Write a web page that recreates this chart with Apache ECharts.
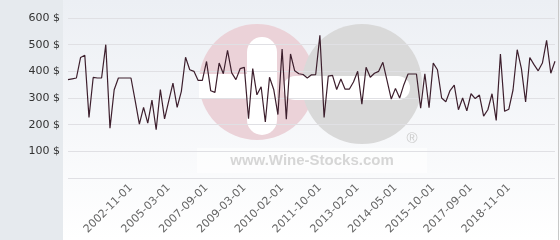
<!DOCTYPE html>
<html><head><meta charset="utf-8">
<script src="https://cdn.jsdelivr.net/npm/echarts@6/dist/echarts.min.js"></script>
<style>html,body{margin:0;padding:0;background:#fff}#c{width:560px;height:240px}</style>
</head><body><div id="c"></div>
<script>
const categories = [
'2000-03-01','2000-05-01','2000-07-01','2000-09-01','2000-11-01','2001-01-01','2001-03-01','2001-05-01','2001-07-01','2001-09-01','2001-11-01','2002-01-01','2002-03-01','2002-05-01','2002-07-01',
'2002-11-01',
'2003-02-01','2003-05-01','2003-08-01','2003-11-01','2004-02-01','2004-05-01','2004-08-01','2004-11-01','2005-03-01',
'2005-06-01','2005-10-01','2006-01-01','2006-04-01','2006-07-01','2006-10-01','2007-01-01','2007-05-01','2007-09-01',
'2007-11-01','2008-01-01','2008-03-01','2008-05-01','2008-07-01','2008-09-01','2008-11-01','2009-01-01','2009-03-01',
'2009-04-01','2009-05-01','2009-06-01','2009-07-01','2009-08-01','2009-09-01','2009-10-01','2009-12-01','2010-02-01',
'2010-04-01','2010-06-01','2010-08-01','2010-10-01','2010-12-01','2011-02-01','2011-04-01','2011-07-01','2011-10-01',
'2011-12-01','2012-02-01','2012-04-01','2012-06-01','2012-07-01','2012-08-01','2012-10-01','2012-12-01','2013-02-01',
'2013-03-01','2013-05-01','2013-07-01','2013-08-01','2013-09-01','2013-11-01','2014-01-01','2014-03-01','2014-05-01',
'2014-07-01','2014-09-01','2014-11-01','2015-01-01','2015-03-01','2015-04-01','2015-06-01','2015-08-01','2015-10-01',
'2015-12-01','2016-03-01','2016-06-01','2016-08-01','2016-10-01','2016-12-01','2017-03-01','2017-06-01','2017-09-01',
'2017-10-01','2017-12-01','2018-02-01','2018-03-01','2018-04-01','2018-06-01','2018-07-01','2018-09-01','2018-11-01',
'2018-12-01','2019-01-01','2019-03-01','2019-04-01','2019-06-01','2019-07-01','2019-09-01','2019-10-01','2019-12-01','2020-01-01','2020-03-01'
];
const prices = [
369,372,375,452,460,227,377,375,375,500,
187,331,375,375,375,375,290,202,265,206,
292,181,332,222,289,356,265,325,453,406,
400,366,366,437,327,321,431,391,479,394,
369,410,415,222,410,312,342,210,378,332,
238,484,220,465,402,391,388,375,387,388,
535,227,382,385,332,371,333,333,360,400,
277,415,378,393,400,434,365,296,336,300,
350,390,390,390,262,391,264,431,406,300,
286,328,348,256,300,252,316,298,311,232,
256,316,216,465,250,258,330,481,410,285,
452,425,402,431,516,393,438
];
const tickLabels = ['2002-11-01','2005-03-01','2007-09-01','2009-03-01','2010-02-01','2011-10-01','2013-02-01','2014-05-01','2015-10-01','2017-09-01','2018-11-01'];
const yMin = 0, yMax = 600, yStep = 100;
const yUnit = ' $';

const chart = echarts.init(document.getElementById('c'), null, {renderer: 'canvas'});
chart.setOption({
  animation: false,
  backgroundColor: '#ffffff',
  graphic: [
    {type: 'rect', z: -10, shape: {x: 63, y: 0, width: 497, height: 240},
     style: {fill: new echarts.graphic.LinearGradient(0, 0, 0, 1, [{offset: 0, color: '#eceff4'}, {offset: 1, color: '#ffffff'}])}},
    {type: 'rect', z: -10, shape: {x: 0, y: 0, width: 63, height: 240}, style: {fill: '#e6eaee'}},
    {type: 'line', z: -10, shape: {x1: 558.5, y1: 0, x2: 558.5, y2: 240}, style: {stroke: '#c8c8c8', lineWidth: 1}},
    {type: 'rect', z: -9, shape: {x: 197, y: 148, width: 230, height: 25}, style: {fill: 'rgba(255,255,255,0.6)'}},
    {type: 'circle', z: -8, shape: {cx: 257, cy: 82, r: 58}, style: {fill: '#ebd2d8'}},
    {type: 'circle', z: -8, shape: {cx: 362, cy: 84, r: 60}, style: {fill: '#d9d9d9'}},
    {type: 'rect', z: -7, shape: {x: 199, y: 74, width: 62, height: 24, r: 0}, style: {fill: '#ffffff'}},
    {type: 'rect', z: -7, shape: {x: 247, y: 37, width: 30, height: 98, r: 15}, style: {fill: '#ffffff'}},
    {type: 'rect', z: -7, shape: {x: 283, y: 76, width: 127, height: 24, r: 12}, style: {fill: '#ffffff'}},
    {type: 'text', z: -7, style: {x: 412, y: 139, text: '®', fill: '#cccccc', font: '15px "Liberation Sans"', align: 'center', verticalAlign: 'middle'}},
    {type: 'text', z: -7, style: {x: 312, y: 161, text: 'www.Wine-Stocks.com', fill: '#d6d6d6', font: 'bold 15px "Liberation Sans"', align: 'center', verticalAlign: 'middle'}}
  ],
  grid: {left: 68, right: 5, top: 18, bottom: 62, containLabel: false},
  xAxis: {
    type: 'category', data: categories, boundaryGap: false,
    axisLine: {show: false}, axisTick: {show: false}, splitLine: {show: false},
    axisLabel: {
      rotate: 45, margin: 8, color: '#666666', fontSize: 11, fontFamily: 'DejaVu Sans',
      interval: (idx, val) => tickLabels.indexOf(val) >= 0
    }
  },
  yAxis: {
    type: 'value', min: yMin, max: yMax, interval: yStep,
    axisLine: {show: false}, axisTick: {show: false},
    splitLine: {lineStyle: {color: '#e0e0e4', width: 1}},
    axisLabel: {margin: 8, color: '#333333', fontSize: 11, fontFamily: 'DejaVu Sans',
      formatter: v => v === 0 ? '' : v + yUnit}
  },
  series: [{
    type: 'line', data: prices, showSymbol: false, symbol: 'none',
    lineStyle: {color: '#3d1f2d', width: 1.2}, z: 5
  }]
});
</script>
</body></html>
